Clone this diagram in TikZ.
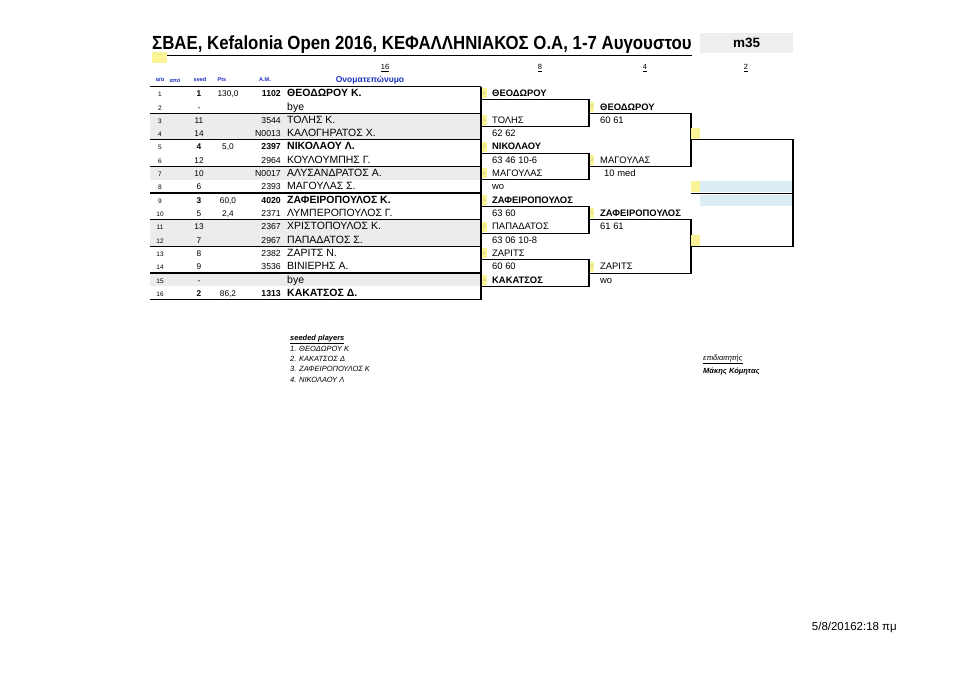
\documentclass[tikz,border=0pt]{standalone}
\usepackage{fontspec}
\setmainfont{Liberation Sans}
\newfontfamily\titlefont[FakeStretch=0.885]{Liberation Sans}
\usetikzlibrary{positioning}
\definecolor{headblue}{RGB}{28,48,196}
\definecolor{markyellow}{RGB}{250,244,150}
\definecolor{rowgray}{RGB}{236,236,236}
\definecolor{finalblue}{RGB}{220,236,244}
\definecolor{tabgray}{RGB}{238,238,238}
\tikzstyle{cell} = [inner sep=0pt, anchor=mid, font=\fontsize{8.3}{9}\selectfont]
\tikzstyle{namecell} = [cell, anchor=mid west, font=\fontsize{10.5}{12}\selectfont]
\tikzstyle{drawcell} = [cell, anchor=mid west, font=\fontsize{9.4}{11}\selectfont]
\tikzstyle{drawbold} = [cell, anchor=mid west, font=\bfseries\fontsize{9.4}{11}\selectfont]
\tikzstyle{seedmark} = [fill=markyellow, inner sep=0pt, minimum width=4.5pt,
    minimum height=10pt, font=\fontsize{3.5}{4}\selectfont, text=black!45]
\tikzstyle{finalmark} = [fill=markyellow, inner sep=0pt, minimum width=8.5pt, minimum height=11pt]
\tikzstyle{header} = [inner sep=0pt, text=headblue, font=\bfseries\fontsize{5.5}{6}\selectfont]
\tikzstyle{roundno} = [inner sep=0pt, font=\fontsize{7.5}{8}\selectfont]
\tikzstyle{tableline} = [line width=1.3pt]
\tikzstyle{drawline} = [line width=1.1pt]
\tikzstyle{listline} = [inner sep=0pt, anchor=mid west, font=\itshape\fontsize{7.5}{8}\selectfont]
\def\rowy#1{80.7+13.33*#1}
\def\liney#1{86.5+13.33*#1}
\def\player#1#2#3#4#5{
    \node[cell, font=\fontsize{6.5}{7}\selectfont] (no#1) at (160,{\rowy{#1}}) {#1};
    \node[cell] (seed#1) at (199,{\rowy{#1}}) {#2};
    \node[cell] (pts#1) at (228,{\rowy{#1}}) {#3};
    \node[cell, anchor=mid east, font=\fontsize{8.7}{9}\selectfont] (am#1) at (281,{\rowy{#1}}) {#4};
    \node[namecell] (name#1) at (287,{\rowy{#1}}) {#5};
}
\def\seedbox#1#2#3#4{\node[seedmark] (#1) at (#2,{\rowy{#3}-0.6}) {#4};}

\begin{document}
\begin{tikzpicture}[x=1pt,y=-1pt]
\fill[white] (0,0) rectangle (960,678);

\node[anchor=base west, inner sep=0pt, font=\titlefont\bfseries\fontsize{19}{21}\selectfont] (title)
    at (152,49.5) {\underline{ΣΒΑΕ, Kefalonia Open 2016, ΚΕΦΑΛΛΗΝΙΑΚΟΣ Ο.Α, 1-7 Αυγουστου}};
\node[fill=tabgray, minimum width=93pt, minimum height=20pt, inner sep=0pt,
    font=\bfseries\fontsize{13.5}{14}\selectfont] (sheet) at (746.5,43) {m35};
\node[fill=markyellow, minimum width=15pt, minimum height=11pt, inner sep=0pt] (flag) at (159.5,57.5) {};

\node[roundno] (r16) at (385,68) {\underline{16}};
\node[roundno] (r8) at (540,68) {\underline{8}};
\node[roundno] (r4) at (645,68) {\underline{4}};
\node[roundno] (r2) at (746,68) {\underline{2}};

\node[header] (hno) at (160,80) {α/α};
\node[header] (hfrom) at (175,80) {από};
\node[header] (hseed) at (200,80) {seed};
\node[header] (hpts) at (222,80) {Pts};
\node[header] (ham) at (265,80) {A.M.};
\node[header, font=\bfseries\fontsize{8.5}{9}\selectfont] (hname) at (370,80) {Ονοματεπώνυμο};

\fill[rowgray] (150,{\liney{2}}) rectangle (481,{\liney{4}});
\fill[rowgray] (150,{\liney{6}}) rectangle (481,{\liney{7}});
\fill[rowgray] (150,{\liney{10}}) rectangle (481,{\liney{12}});
\fill[rowgray] (150,{\liney{14}}) rectangle (481,{\liney{15}});
\fill[finalblue] (700,{\liney{7}+1}) rectangle (793,{\liney{8}-1.5});
\fill[finalblue] (700,{\liney{8}+1.5}) rectangle (793,{\liney{9}});

\player{1}{\bfseries 1}{130,0}{\bfseries 1102}{\bfseries ΘΕΟΔΩΡΟΥ Κ.}
\player{2}{-}{}{}{bye}
\player{3}{11}{}{3544}{ΤΟΛΗΣ Κ.}
\player{4}{14}{}{N0013}{ΚΑΛΟΓΗΡΑΤΟΣ Χ.}
\player{5}{\bfseries 4}{5,0}{\bfseries 2397}{\bfseries ΝΙΚΟΛΑΟΥ Λ.}
\player{6}{12}{}{2964}{ΚΟΥΛΟΥΜΠΗΣ Γ.}
\player{7}{10}{}{N0017}{ΑΛΥΣΑΝΔΡΑΤΟΣ Α.}
\player{8}{6}{}{2393}{ΜΑΓΟΥΛΑΣ Σ.}
\player{9}{\bfseries 3}{60,0}{\bfseries 4020}{\bfseries ΖΑΦΕΙΡΟΠΟΥΛΟΣ Κ.}
\player{10}{5}{2,4}{2371}{ΛΥΜΠΕΡΟΠΟΥΛΟΣ Γ.}
\player{11}{13}{}{2367}{ΧΡΙΣΤΟΠΟΥΛΟΣ Κ.}
\player{12}{7}{}{2967}{ΠΑΠΑΔΑΤΟΣ Σ.}
\player{13}{8}{}{2382}{ΖΑΡΙΤΣ Ν.}
\player{14}{9}{}{3536}{ΒΙΝΙΕΡΗΣ Α.}
\player{15}{-}{}{}{bye}
\player{16}{\bfseries 2}{86,2}{\bfseries 1313}{\bfseries ΚΑΚΑΤΣΟΣ Δ.}

\draw[tableline] (150,{\liney{0}}) -- (481,{\liney{0}})
    (150,{\liney{2}}) -- (481,{\liney{2}})
    (150,{\liney{4}}) -- (481,{\liney{4}})
    (150,{\liney{6}}) -- (481,{\liney{6}})
    (150,{\liney{8}}) -- (481,{\liney{8}})
    (150,{\liney{10}}) -- (481,{\liney{10}})
    (150,{\liney{12}}) -- (481,{\liney{12}})
    (150,{\liney{14}}) -- (481,{\liney{14}})
    (150,{\liney{16}}) -- (481,{\liney{16}});
\draw[tableline] (481,{\liney{0}}) -- (481,{\liney{16}});

\draw[drawline] (481,{\liney{1}}) -| (589,{\liney{3}}) -- (481,{\liney{3}});
\draw[drawline] (481,{\liney{5}}) -| (589,{\liney{7}}) -- (481,{\liney{7}});
\draw[drawline] (481,{\liney{9}}) -| (589,{\liney{11}}) -- (481,{\liney{11}});
\draw[drawline] (481,{\liney{13}}) -| (589,{\liney{15}}) -- (481,{\liney{15}});
\draw[drawline] (589,{\liney{2}}) -| (691,{\liney{6}}) -- (589,{\liney{6}});
\draw[drawline] (589,{\liney{10}}) -| (691,{\liney{14}}) -- (589,{\liney{14}});
\draw[drawline] (691,{\liney{4}}) -| (793,{\liney{12}}) -- (691,{\liney{12}});
\draw[drawline] (691,{\liney{8}}) -- (793,{\liney{8}});

\seedbox{ma1}{484.5}{1}{1}
\seedbox{ma3}{484.5}{3}{1}
\seedbox{ma5}{484.5}{5}{1}
\seedbox{ma7}{484.5}{7}{2}
\seedbox{ma9}{484.5}{9}{1}
\seedbox{ma11}{484.5}{11}{2}
\seedbox{ma13}{484.5}{13}{1}
\seedbox{ma15}{484.5}{15}{2}
\node[drawbold] (wa1) at (492,{\rowy{1}}) {ΘΕΟΔΩΡΟΥ};
\node[drawcell] (wa3) at (492,{\rowy{3}}) {ΤΟΛΗΣ};
\node[drawcell] (sa4) at (492,{\rowy{4}}) {62 62};
\node[drawbold] (wa5) at (492,{\rowy{5}}) {ΝΙΚΟΛΑΟΥ};
\node[drawcell] (sa6) at (492,{\rowy{6}}) {63 46 10-6};
\node[drawcell] (wa7) at (492,{\rowy{7}}) {ΜΑΓΟΥΛΑΣ};
\node[drawcell] (sa8) at (492,{\rowy{8}}) {wo};
\node[drawbold] (wa9) at (492,{\rowy{9}}) {ΖΑΦΕΙΡΟΠΟΥΛΟΣ};
\node[drawcell] (sa10) at (492,{\rowy{10}}) {63 60};
\node[drawcell] (wa11) at (492,{\rowy{11}}) {ΠΑΠΑΔΑΤΟΣ};
\node[drawcell] (sa12) at (492,{\rowy{12}}) {63 06 10-8};
\node[drawcell] (wa13) at (492,{\rowy{13}}) {ΖΑΡΙΤΣ};
\node[drawcell] (sa14) at (492,{\rowy{14}}) {60 60};
\node[drawbold] (wa15) at (492,{\rowy{15}}) {ΚΑΚΑΤΣΟΣ};

\seedbox{mb2}{592}{2}{1}
\seedbox{mb6}{592}{6}{2}
\seedbox{mb10}{592}{10}{1}
\seedbox{mb14}{592}{14}{1}
\node[drawbold] (wb2) at (600,{\rowy{2}}) {ΘΕΟΔΩΡΟΥ};
\node[drawcell] (sb3) at (600,{\rowy{3}}) {60 61};
\node[drawcell] (wb6) at (600,{\rowy{6}}) {ΜΑΓΟΥΛΑΣ};
\node[drawcell] (sb7) at (604,{\rowy{7}}) {10 med};
\node[drawbold] (wb10) at (600,{\rowy{10}}) {ΖΑΦΕΙΡΟΠΟΥΛΟΣ};
\node[drawcell] (sb11) at (600,{\rowy{11}}) {61 61};
\node[drawcell] (wb14) at (600,{\rowy{14}}) {ΖΑΡΙΤΣ};
\node[drawcell] (sb15) at (600,{\rowy{15}}) {wo};

\node[finalmark] (mc4) at (695.5,{\rowy{4}-0.6}) {};
\node[finalmark] (mc8) at (695.5,{\rowy{8}-0.6}) {};
\node[finalmark] (mc12) at (695.5,{\rowy{12}-0.6}) {};

\node[listline, font=\bfseries\itshape\fontsize{7.5}{8}\selectfont] (seeded) at (290,338) {\underline{seeded players}};
\node[listline] (seedone) at (290,348.5) {1. ΘΕΟΔΩΡΟΥ Κ};
\node[listline] (seedtwo) at (290,359) {2. ΚΑΚΑΤΣΟΣ Δ};
\node[listline] (seedthree) at (290,369) {3. ΖΑΦΕΙΡΟΠΟΥΛΟΣ Κ};
\node[listline] (seedfour) at (290,379.5) {4. ΝΙΚΟΛΑΟΥ Λ};
\node[listline] (referee) at (703,358) {\underline{επιδιαιτητής}};
\node[listline, font=\bfseries\itshape\fontsize{7.5}{8}\selectfont, below right=3pt and 0pt] (refname)
    at (referee.south west) {Μάκης Κόμητας};

\node[inner sep=0pt, anchor=mid east, font=\fontsize{11.5}{12}\selectfont] (printed) at (897,628) {5/8/20162:18 πμ};
\end{tikzpicture}
\end{document}
